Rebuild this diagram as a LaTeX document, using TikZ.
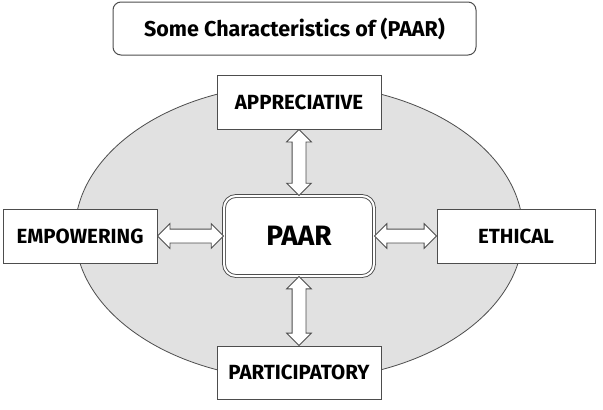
\documentclass[tikz,border=0pt]{standalone}
\usepackage{fontspec}
\setmainfont{Fira Sans}
\usetikzlibrary{shapes.arrows,calc}
\definecolor{edgegray}{HTML}{4D4D4D}
\definecolor{ovalgray}{HTML}{E1E1E1}

\begin{document}
\begin{tikzpicture}[x=1pt,y=-1pt,
    box/.style={draw=edgegray,line width=1pt,fill=white,inner sep=0pt,
      font=\fontsize{20.5}{22}\selectfont\bfseries},
    dblarrow/.style={double arrow,draw=edgegray,fill=white,line width=0.8pt,
      inner sep=6.5pt,double arrow head extend=5.5pt}]
  \useasboundingbox (0,0) rectangle (603,410);
  \fill[ovalgray,draw=edgegray,line width=0.8pt] (299,232) ellipse [x radius=224,y radius=148];
  \node[box,rounded corners=8pt,minimum width=363pt,minimum height=53pt,
    font=\fontsize{21.5}{23}\selectfont\bfseries] (title) at (294.5,28.5) {Some Characteristics of (PAAR)};
  \node[box,rounded corners=12pt,double,double distance=2pt,line width=0.9pt,
    minimum width=150pt,minimum height=80pt,font=\fontsize{28}{30}\selectfont\bfseries] (paar) at (299,236) {PAAR};
  \node[box,minimum width=164pt,minimum height=54pt] (appr) at (299,102) {APPRECIATIVE};
  \node[box,minimum width=154pt,minimum height=54pt] (emp) at (80,236) {EMPOWERING};
  \node[box,minimum width=158pt,minimum height=54pt] (eth) at (516,236) {ETHICAL};
  \node[box,minimum width=164pt,minimum height=53pt] (part) at (299,372.5) {PARTICIPATORY};
  % block arrows between the boxes
  \foreach \a/\b/\r in {appr.south/paar.north/90,part.north/paar.south/90,emp.east/paar.west/0,eth.west/paar.east/0}
    \path let \p1=($(\a)-(\b)$), \n1={veclen(\x1,\y1)} in
      node[dblarrow,minimum height=\n1,rotate=\r] at ($(\a)!.5!(\b)$) {};
\end{tikzpicture}
\end{document}
